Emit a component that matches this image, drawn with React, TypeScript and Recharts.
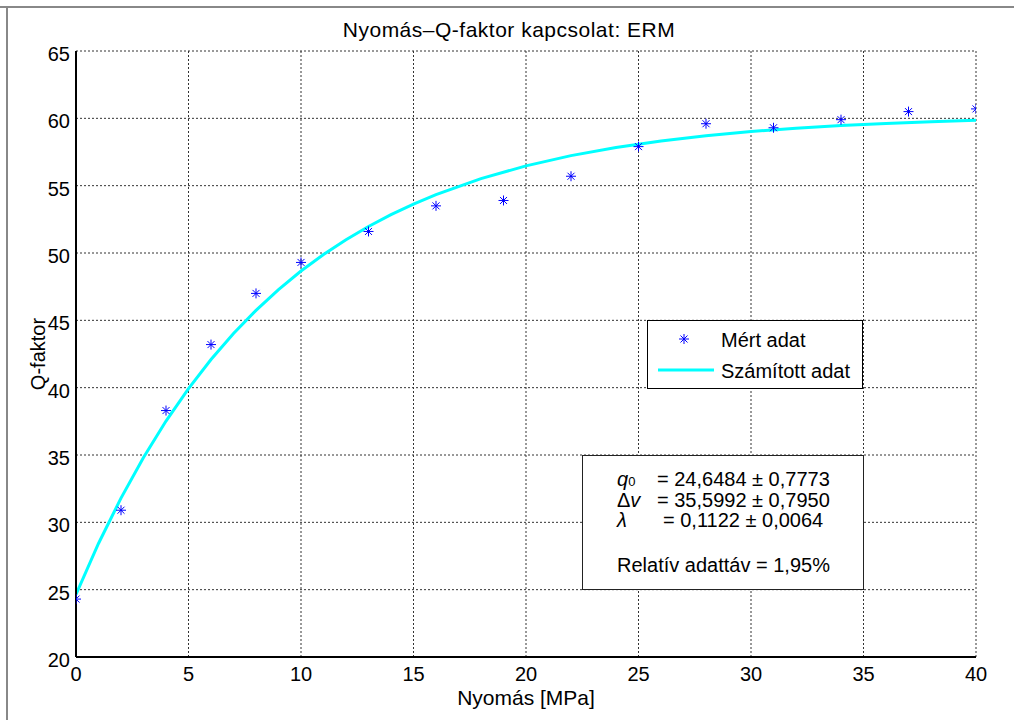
import React from 'react';
import {
  ComposedChart,
  Line,
  Scatter,
  XAxis,
  YAxis,
  CartesianGrid,
  Legend,
  Label,
} from 'recharts';

// measured points
const pressure = [0, 2, 4, 6, 8, 10, 13, 16, 19, 22, 25, 28, 31, 34, 37, 40];
const measuredQ = [24.3, 30.9, 38.3, 43.2, 47.0, 49.3, 51.6, 53.5, 53.9, 55.7, 57.9, 59.6, 59.3, 59.9, 60.5, 60.7];

// fitted curve
const fitPressure = [0, 1, 2, 3, 4, 5, 6, 7, 8, 9, 10, 11, 12, 13, 14, 15, 16, 18, 20, 22, 24, 26, 28, 30, 32, 34, 36, 38, 40];
const fitQ = [24.65, 28.43, 31.8, 34.82, 37.52, 39.93, 42.09, 44.02, 45.74, 47.28, 48.66, 49.89, 50.98, 51.97, 52.85, 53.63, 54.33, 55.52, 56.47, 57.23, 57.84, 58.32, 58.71, 59.02, 59.27, 59.46, 59.62, 59.74, 59.85];

const xTicks = [0, 5, 10, 15, 20, 25, 30, 35, 40];
const yTicks = [20, 25, 30, 35, 40, 45, 50, 55, 60, 65];

const seriesNames = ['Mért adat', 'Számított adat'];

const measured = pressure.map((x, i) => ({ x, y: measuredQ[i] }));
const fitted = fitPressure.map((x, i) => ({ x, y: fitQ[i] }));

const FONT = '"Liberation Sans", Arial, Helvetica, sans-serif';

const Asterisk = (props: any) => {
  const { cx, cy } = props;
  if (cx == null || cy == null) return null;
  const r = 5;
  const d = 3.5;
  return (
    <g stroke="#0000ff" strokeWidth={1}>
      <line x1={cx - r} y1={cy} x2={cx + r} y2={cy} />
      <line x1={cx} y1={cy - r} x2={cx} y2={cy + r} />
      <line x1={cx - d} y1={cy - d} x2={cx + d} y2={cy + d} />
      <line x1={cx - d} y1={cy + d} x2={cx + d} y2={cy - d} />
    </g>
  );
};

// matlab puts the y labels a little below the tick
const YTick = (props: any) => {
  const { x, y, payload } = props;
  return (
    <text x={x} y={y + 3} dy="0.355em" textAnchor="end" fontSize={20} fill="#000">
      {payload.value}
    </text>
  );
};

const LegendBox = () => (
  <div
    style={{
      position: 'relative',
      width: 216,
      height: 69,
      boxSizing: 'border-box',
      border: '1px solid #000',
      background: '#fff',
      fontFamily: FONT,
      fontSize: 20,
      lineHeight: '22px',
      color: '#000',
    }}
  >
    <svg width={214} height={67} style={{ position: 'absolute', left: 0, top: 0 }}>
      <Asterisk cx={36} cy={18} />
      <line x1={10} y1={49} x2={66} y2={49} stroke="#00ffff" strokeWidth={3} />
    </svg>
    <div style={{ position: 'absolute', left: 73, top: 8, whiteSpace: 'nowrap' }}>{seriesNames[0]}</div>
    <div style={{ position: 'absolute', left: 73, top: 39, whiteSpace: 'nowrap' }}>{seriesNames[1]}</div>
  </div>
);

const row = (top: number, left: number, content: React.ReactNode) => (
  <div style={{ position: 'absolute', top, left, whiteSpace: 'nowrap' }}>{content}</div>
);

export default function App() {
  return (
    <div
      style={{
        position: 'absolute',
        left: 0,
        top: 0,
        width: 1014,
        height: 720,
        background: '#fff',
        fontFamily: FONT,
        color: '#000',
        overflow: 'hidden',
      }}
    >
      {/* figure frame edges */}
      <div style={{ position: 'absolute', left: 0, top: 6, width: 1014, height: 2, background: '#888' }} />
      <div style={{ position: 'absolute', left: 6, top: 6, width: 2, height: 714, background: '#888' }} />

      <ComposedChart
        width={1014}
        height={720}
        margin={{ top: 51, right: 38, bottom: 0, left: 0 }}
        style={{ position: 'absolute', left: 0, top: 0 }}
      >
        <CartesianGrid stroke="#333" strokeDasharray="2 2" />
        <XAxis
          dataKey="x"
          type="number"
          domain={[0, 40]}
          ticks={xTicks}
          interval={0}
          allowDataOverflow
          height={63}
          axisLine={{ stroke: '#000', strokeWidth: 2 }}
          tickLine={false}
          tickSize={6}
          tickMargin={4}
          tick={{ fontSize: 20, fill: '#000' }}
        >
          <Label value="Nyomás [MPa]" position="insideBottom" offset={15} fill="#000" fontSize={21} />
        </XAxis>
        <XAxis
          xAxisId="top"
          orientation="top"
          dataKey="x"
          type="number"
          domain={[0, 40]}
          height={0}
          tick={false}
          tickLine={false}
          axisLine={{ stroke: '#000', strokeWidth: 2 }}
        />
        <YAxis
          dataKey="y"
          type="number"
          domain={[20, 65]}
          ticks={yTicks}
          interval={0}
          allowDataOverflow
          width={76}
          axisLine={{ stroke: '#000', strokeWidth: 2 }}
          tickLine={false}
          tickSize={6}
          tickMargin={0}
          tick={<YTick />}
        >
          <Label value="Q-faktor" angle={-90} position="center" fill="#000" fontSize={20} />
        </YAxis>
        <YAxis
          yAxisId="right"
          orientation="right"
          dataKey="y"
          type="number"
          domain={[20, 65]}
          width={0}
          tick={false}
          tickLine={false}
          axisLine={{ stroke: '#000', strokeWidth: 2 }}
        />
        <Line
          data={fitted}
          dataKey="y"
          name={seriesNames[1]}
          type="linear"
          stroke="#00ffff"
          strokeWidth={3}
          dot={false}
          activeDot={false}
          isAnimationActive={false}
        />
        <Scatter
          data={measured}
          dataKey="y"
          name={seriesNames[0]}
          shape={<Asterisk />}
          isAnimationActive={false}
        />
        <Legend
          layout="horizontal"
          verticalAlign="middle"
          align="center"
          content={() => <LegendBox />}
          wrapperStyle={{ position: 'absolute', left: 647, top: 320, width: 216, height: 69 }}
        />
      </ComposedChart>

      {/* title */}
      <div
        style={{
          position: 'absolute',
          left: 0,
          top: 18,
          width: 1018,
          textAlign: 'center',
          fontSize: 21,
          lineHeight: '24px',
          letterSpacing: 0.5,
        }}
      >
        Nyomás–Q-faktor kapcsolat: ERM
      </div>

      {/* fit parameters box */}
      <div
        style={{
          position: 'absolute',
          left: 582,
          top: 455,
          width: 282,
          height: 135,
          boxSizing: 'border-box',
          border: '1px solid #222',
          background: '#fff',
        }}
      />
      <div style={{ fontSize: 20, lineHeight: '22px' }}>
        {row(468, 617, (
          <span>
            <i>q</i>
            <span style={{ fontSize: 13 }}>0</span>
          </span>
        ))}
        {row(468, 657, '= 24,6484 ± 0,7773')}
        {row(489, 617, (
          <span>
            Δ<i>v</i>
          </span>
        ))}
        {row(489, 657, '= 35,5992 ± 0,7950')}
        {row(509, 617, <i>λ</i>)}
        {row(509, 663, '= 0,1122 ± 0,0064')}
        {row(554, 617, 'Relatív adattáv = 1,95%')}
      </div>
    </div>
  );
}
